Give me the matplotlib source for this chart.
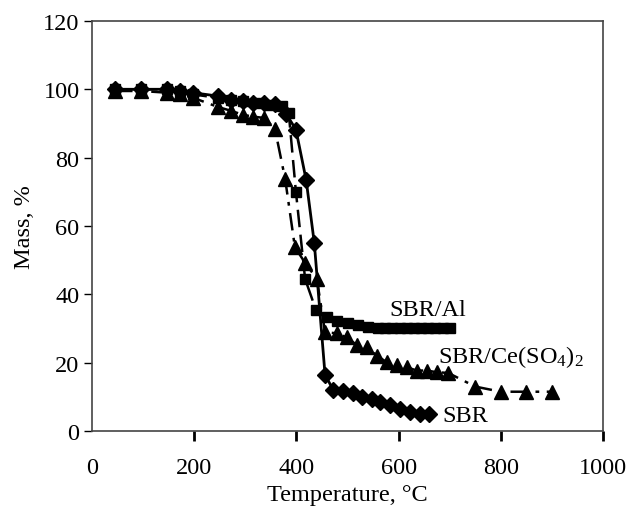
import matplotlib
matplotlib.use("Agg")
import matplotlib.pyplot as plt

plt.rcParams['font.family'] = ['Liberation Serif', 'DejaVu Serif']
plt.rcParams['mathtext.fontset'] = 'custom'
plt.rcParams['mathtext.rm'] = 'Liberation Serif'
plt.rcParams['mathtext.it'] = 'Liberation Serif:italic'

# SBR (diamonds, solid)
sbr_t = [45, 96, 147, 172, 197, 247, 272, 296, 316, 337, 358, 380, 399, 419, 435,
         456, 472, 491, 511, 528, 548, 564, 583, 603, 622, 642, 660]
sbr_m = [100, 100, 100, 99.5, 99, 98, 97, 96.5, 96, 96, 95.8, 92.8, 88.2, 73.5, 55,
         16.5, 12, 11.8, 11, 10, 9.3, 8.6, 7.6, 6.5, 5.6, 5, 5]

# SBR/Al (squares, dashed)
al_t = [45, 96, 147, 172, 197, 247, 272, 296, 322, 347, 372, 385, 399, 417, 438,
        459, 479, 500, 521, 540, 560, 574, 588, 602, 616, 630, 644, 658, 672, 686, 700]
al_m = [100, 100, 100, 99.5, 98.5, 97.5, 97, 96.5, 96, 95.5, 95, 93, 70, 44.5, 35.5,
        33.5, 32.3, 31.7, 31, 30.5, 30.2, 30, 30, 30, 30, 30, 30, 30, 30, 30, 30]

# SBR/Ce(SO4)2 (triangles, dash-dot)
ce_t = [45, 96, 147, 172, 198, 247, 272, 296, 316, 337, 358, 378, 397, 417, 440,
        456, 479, 498, 518, 538, 558, 577, 596, 616, 635, 655, 675, 697, 750, 800, 850, 900]
ce_m = [99.5, 99.5, 99, 98.5, 97.5, 94.8, 93.7, 92.5, 92, 91.6, 88.4, 73.7, 53.8, 49.2, 44.5,
        28.9, 28.6, 27.4, 25.2, 24.5, 22, 20.1, 19.3, 18.7, 17.7, 17.7, 17.2, 17, 13, 11.5, 11.5, 11.5]

labels = ["SBR/Al", "SBR/Ce(SO$_4$)$_2$", "SBR"]
label_pos = [(582, 35.5), (678, 22), (686, 4.5)]

fig = plt.figure(figsize=(6.29, 5.10), dpi=100)
ax = fig.add_axes([0.1463, 0.1529, 0.8124, 0.8041])

ax.plot(al_t, al_m, color='black', lw=1.8, ls=(0, (7, 3)), marker='s', ms=7, zorder=3)
ax.plot(ce_t, ce_m, color='black', lw=1.8, ls=(0, (7, 3, 1.5, 3)), marker='^', ms=9.5, zorder=3)
ax.plot(sbr_t, sbr_m, color='black', lw=2, ls='-', marker='D', ms=8.5, zorder=4)

for txt, (x, y) in zip(labels, label_pos):
    ax.text(x, y, txt, fontsize=17.5, ha='left', va='center', color='black')

ax.set_xlim(0, 1000)
ax.set_ylim(0, 120)
ax.set_xticks([0, 200, 400, 600, 800, 1000])
ax.set_yticks([0, 20, 40, 60, 80, 100, 120])
ax.tick_params(axis='x', direction='out', length=7, width=2, labelsize=17.5, pad=12)
ax.tick_params(axis='y', direction='out', length=6, width=1, labelsize=17.5, pad=3)
ax.xaxis.get_major_ticks()[0].tick1line.set_visible(False)

for sp in ax.spines.values():
    sp.set_color('#444444')
    sp.set_linewidth(1.2)

ax.set_xlabel("Temperature, °C", fontsize=17.5, labelpad=4)
ax.set_ylabel("Mass, %", fontsize=17.5, labelpad=6)

fig.savefig("out.png", dpi=100)
